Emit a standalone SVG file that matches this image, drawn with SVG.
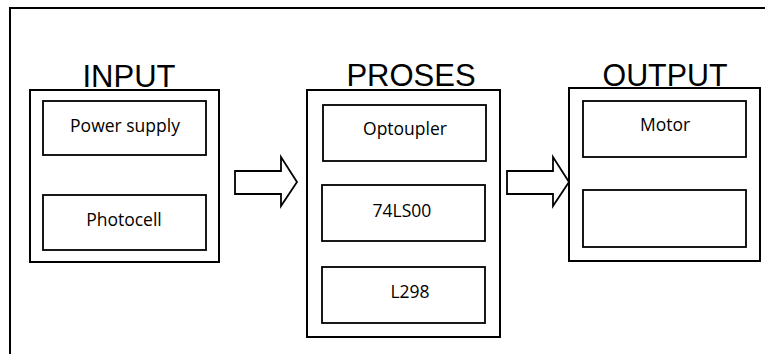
<svg xmlns="http://www.w3.org/2000/svg" width="765" height="354" viewBox="0 0 765 354">
<style>
.box{fill:#fff;stroke:#000;stroke-width:2}
.inner{fill:#fff;stroke:#000;stroke-width:1.8}
.title{font-family:"Liberation Sans",Arial,sans-serif;font-size:31px;fill:#000;text-anchor:middle}
.lbl{font-family:"Open Sans","Liberation Sans",sans-serif;font-size:17.5px;fill:#000;text-anchor:middle}
.arrow{fill:#fff;stroke:#000;stroke-width:1.8;stroke-linejoin:miter}
</style>
<rect width="765" height="354" fill="#fff"/>
<path d="M10,354 V8 H765" fill="none" stroke="#000" stroke-width="2"/>
<g id="input">
<rect class="box" x="30" y="90" width="189" height="172"/>
<text class="title" x="129" y="87">INPUT</text>
<g id="power-supply"><rect class="inner" x="43" y="101" width="163" height="54"/><text class="lbl" x="125" y="132">Power supply</text></g>
<g id="photocell"><rect class="inner" x="43" y="195" width="163" height="55"/><text class="lbl" x="124" y="226">Photocell</text></g>
</g>
<g id="proses">
<rect class="box" x="307" y="90" width="193" height="247"/>
<text class="title" x="411" y="86">PROSES</text>
<g id="optoupler"><rect class="inner" x="323" y="105" width="163" height="56"/><text class="lbl" x="405" y="135">Optoupler</text></g>
<g id="ls00"><rect class="inner" x="322" y="185" width="163" height="56"/><text class="lbl" x="402" y="217">74LS00</text></g>
<g id="l298"><rect class="inner" x="322" y="267" width="163" height="56"/><text class="lbl" x="410" y="298">L298</text></g>
</g>
<g id="output">
<rect class="box" x="569" y="88" width="191" height="173"/>
<text class="title" x="665" y="86" textLength="125" lengthAdjust="spacingAndGlyphs">OUTPUT</text>
<g id="motor"><rect class="inner" x="583" y="101" width="163" height="56"/><text class="lbl" x="665" y="131">Motor</text></g>
<g id="empty"><rect class="inner" x="583" y="190" width="163" height="57"/></g>
</g>
<g id="connectors">
<polygon class="arrow" points="235,171 281,171 281,157 297,182 281,206 281,194 235,194"/>
<polygon class="arrow" points="507,171 553,171 553,157 569,182 553,206 553,194 507,194"/>
</g>
</svg>
